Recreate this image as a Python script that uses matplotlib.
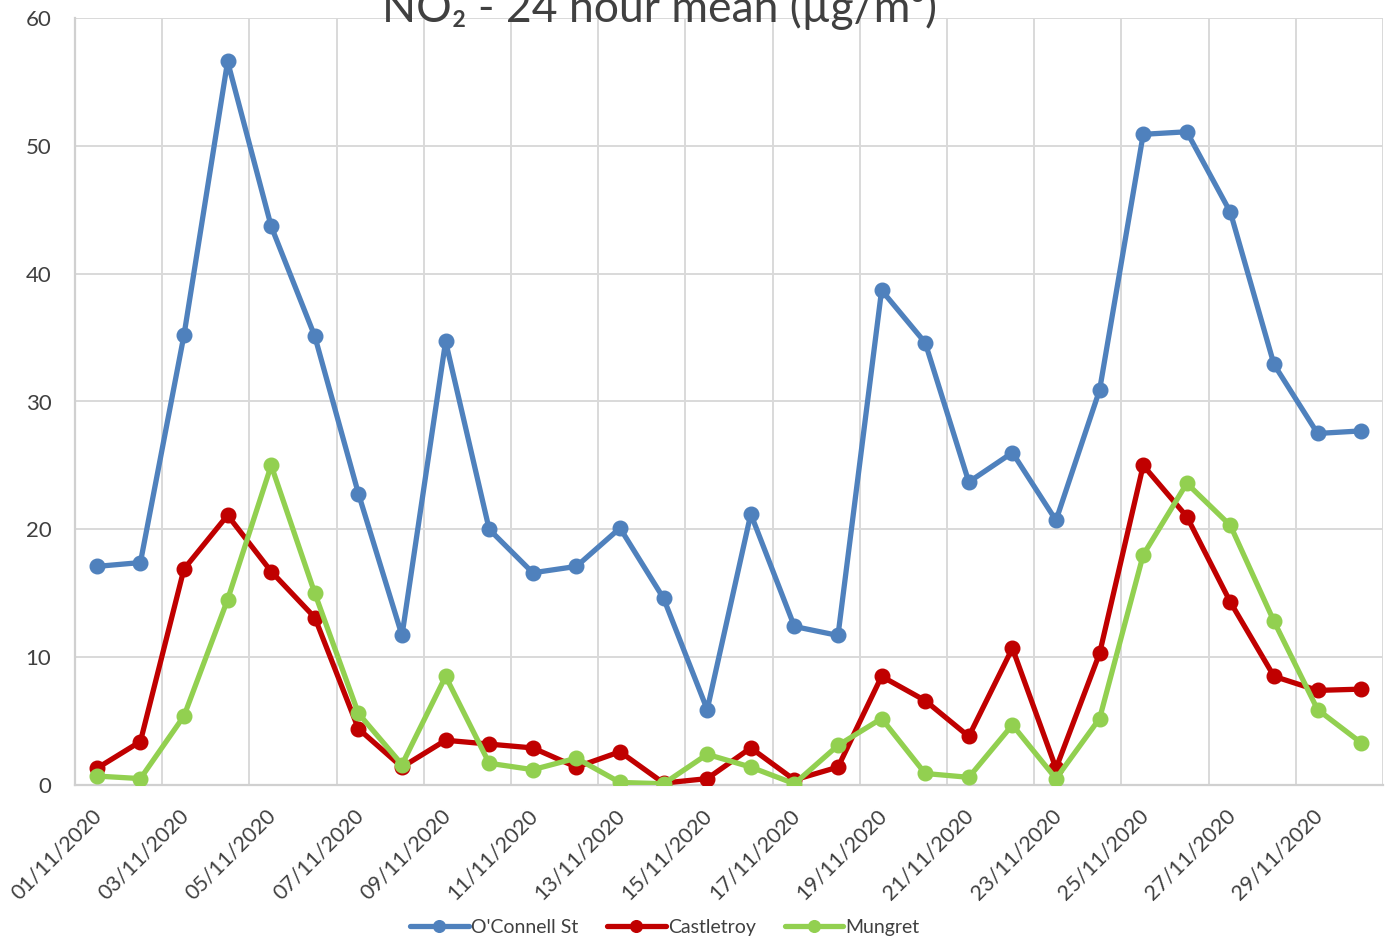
import matplotlib
matplotlib.use("Agg")
import matplotlib.pyplot as plt

plt.rcParams['font.family'] = ['Lato', 'DejaVu Sans']

dates = [f"{d:02d}/11/2020" for d in range(1, 31)]

oconnell = [17.1, 17.4, 35.2, 56.6, 43.7, 35.1, 22.8, 11.7, 34.7, 20.0,
            16.6, 17.1, 20.1, 14.6, 5.9, 21.2, 12.4, 11.7, 38.7, 34.6,
            23.7, 26.0, 20.7, 30.9, 50.9, 51.1, 44.8, 32.9, 27.5, 27.7]
castletroy = [1.3, 3.4, 16.9, 21.1, 16.7, 13.1, 4.4, 1.4, 3.5, 3.2,
              2.9, 1.4, 2.6, 0.15, 0.5, 2.9, 0.4, 1.4, 8.5, 6.6,
              3.8, 10.7, 1.3, 10.3, 25.0, 21.0, 14.3, 8.5, 7.4, 7.5]
mungret = [0.7, 0.5, 5.4, 14.5, 25.0, 15.0, 5.6, 1.6, 8.5, 1.7,
           1.2, 2.1, 0.2, 0.1, 2.4, 1.4, 0.1, 3.1, 5.2, 0.9,
           0.6, 4.7, 0.5, 5.2, 18.0, 23.6, 20.3, 12.8, 5.9, 3.3]

series = [("O'Connell St", oconnell, '#4F81BD'),
          ("Castletroy", castletroy, '#C00000'),
          ("Mungret", mungret, '#92D050')]

W, H = 1394, 947
fig = plt.figure(figsize=(W / 100, H / 100), dpi=100)
ax = fig.add_axes([75 / W, (H - 785) / H, (1383 - 75) / W, (785 - 18) / H])

x = list(range(len(dates)))
for name, vals, col in series:
    ax.plot(x, vals, color=col, lw=3.8, marker='o', ms=10.5, label=name,
            solid_joinstyle='round', solid_capstyle='round', zorder=3)

ax.set_xlim(-0.5, len(dates) - 0.5)
ax.set_ylim(0, 60)
ax.set_yticks(range(0, 61, 10))
# label anchors sit slightly left of the category centre, as in the reference
ax.set_xticks([i - 0.12 for i in x[::2]])
ax.set_xticklabels(dates[::2], rotation=45, ha='right', va='top',
                   rotation_mode='anchor', fontsize=15.5, color='#404040')
ax.set_xticks([i - 0.5 for i in range(0, len(dates) + 1, 2)], minor=True)
ax.tick_params(axis='x', which='both', length=0, pad=15)
ax.tick_params(axis='y', length=0, pad=17, labelsize=16, labelcolor='#404040')
ax.grid(True, axis='y', color='#d9d9d9', lw=1.4, zorder=0)
ax.grid(True, axis='x', which='minor', color='#d9d9d9', lw=1.4, zorder=0)
ax.grid(False, axis='x', which='major')
for s in ['top', 'right']:
    ax.spines[s].set_visible(False)
for s in ['left', 'bottom']:
    ax.spines[s].set_color('#d0d0d0')
    ax.spines[s].set_linewidth(1.6)
ax.set_axisbelow(True)

fig.text(660 / W, 1 - 22 / H, "NO\u2082 - 24 hour mean (\u00b5g/m\u00b3)",
         ha='center', va='baseline', fontsize=32, color='#404040')

leg = ax.legend(loc='center', bbox_to_anchor=(665 / W, 1 - 927 / H),
                bbox_transform=fig.transFigure, ncol=3, frameon=False,
                fontsize=14, handlelength=3.0, handletextpad=0.12,
                columnspacing=1.5, numpoints=1, markerscale=0.8,
                labelcolor='#404040')

fig.savefig('out.png', dpi=100)
